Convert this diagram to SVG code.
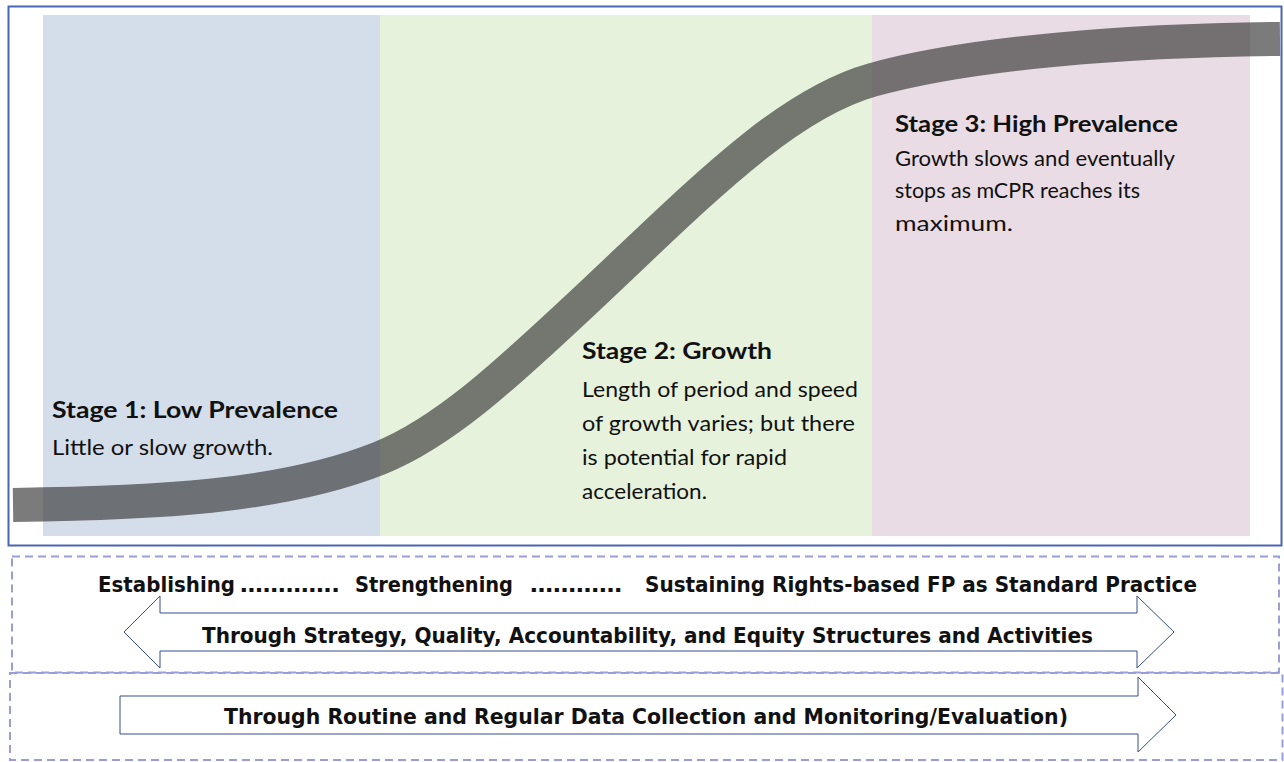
<svg xmlns="http://www.w3.org/2000/svg" width="1284" height="762" viewBox="0 0 1284 762">
  <style>
    .stage-h { font-family: Lato, "Open Sans", "DejaVu Sans", sans-serif; font-weight: 700; font-size: 22px; fill: #111; }
    .stage-b { font-family: Lato, "Open Sans", "DejaVu Sans", sans-serif; font-weight: 400; font-size: 22px; fill: #111; }
    .band-label { font-family: "DejaVu Sans", "Liberation Sans", sans-serif; font-weight: 700; font-size: 20.5px; fill: #111; }
    .dash-box { fill: none; stroke: #9a9ed8; stroke-width: 2; stroke-dasharray: 8 5; }
    .arrow { fill: #fff; stroke: #344f8c; stroke-width: 1; }
  </style>

  <!-- background of the chart area -->
  <rect x="0" y="0" width="1284" height="762" fill="#fff"/>

  <!-- three stage panels -->
  <g id="panels">
    <rect x="43" y="15" width="337" height="521" fill="#d4deea"/>
    <rect x="380" y="15" width="492" height="521" fill="#e6f2dc"/>
    <rect x="872" y="15" width="378" height="521" fill="#e9dce4"/>
  </g>

  <!-- S-shaped mCPR curve -->
  <g id="curve">
    <path d="M13,505 C150,503 280,498 380,458 C445,432 510,370.5 575,310 C690,203 780,106 872,80 C972,52 1130,40.5 1280,39"
          fill="none" stroke="#3a3a3a" stroke-opacity="0.67" stroke-width="34" stroke-linecap="butt"/>
  </g>

  <!-- outer frame -->
  <rect x="8.5" y="6.5" width="1273" height="539" fill="none" stroke="#4a67b4" stroke-width="2"/>

  <!-- stage descriptions -->
  <g id="stage1">
    <text class="stage-h" x="52" y="418" textLength="286" lengthAdjust="spacingAndGlyphs">Stage 1: Low Prevalence</text>
    <text class="stage-b" x="52" y="455" textLength="221" lengthAdjust="spacingAndGlyphs">Little or slow growth.</text>
  </g>
  <g id="stage2">
    <text class="stage-h" x="582" y="359" textLength="190" lengthAdjust="spacingAndGlyphs">Stage 2: Growth</text>
    <text class="stage-b" x="582" y="397" textLength="276" lengthAdjust="spacingAndGlyphs">Length of period and speed</text>
    <text class="stage-b" x="582" y="431" textLength="273" lengthAdjust="spacingAndGlyphs">of growth varies; but there</text>
    <text class="stage-b" x="582" y="465" textLength="205" lengthAdjust="spacingAndGlyphs">is potential for rapid</text>
    <text class="stage-b" x="582" y="499" textLength="125" lengthAdjust="spacingAndGlyphs">acceleration.</text>
  </g>
  <g id="stage3">
    <text class="stage-h" x="895" y="132" textLength="283" lengthAdjust="spacingAndGlyphs">Stage 3: High Prevalence</text>
    <text class="stage-b" x="895" y="166" textLength="280" lengthAdjust="spacingAndGlyphs">Growth slows and eventually</text>
    <text class="stage-b" x="895" y="198" textLength="245" lengthAdjust="spacingAndGlyphs">stops as mCPR reaches its</text>
    <text class="stage-b" x="895" y="231" textLength="118" lengthAdjust="spacingAndGlyphs">maximum.</text>
  </g>

  <!-- dashed bands below the chart -->
  <g id="bands">
    <rect class="dash-box" x="12" y="556.5" width="1267" height="116"/>
    <rect class="dash-box" x="10" y="673" width="1272.5" height="87"/>
  </g>

  <!-- arrows -->
  <g id="connectors">
    <polygon class="arrow" points="124,632 160,596 160,613 1137,613 1137,596 1174,632 1137,668 1137,651 160,651 160,668"/>
    <polygon class="arrow" points="120,696 1138,696 1138,677 1176,715 1138,752 1138,734 120,734"/>
  </g>

  <!-- band labels -->
  <g id="progression">
    <text class="band-label" x="98" y="592" textLength="137" lengthAdjust="spacingAndGlyphs">Establishing</text>
    <text class="band-label" x="240" y="592" textLength="100" lengthAdjust="spacingAndGlyphs">………….</text>
    <text class="band-label" x="355" y="592" textLength="158" lengthAdjust="spacingAndGlyphs">Strengthening</text>
    <text class="band-label" x="530" y="592" textLength="92" lengthAdjust="spacingAndGlyphs">…………</text>
    <text class="band-label" x="645" y="592" textLength="552" lengthAdjust="spacingAndGlyphs">Sustaining Rights-based FP as Standard Practice</text>
  </g>
  <g id="structures">
    <text class="band-label" x="202" y="643" textLength="891" lengthAdjust="spacingAndGlyphs">Through Strategy, Quality, Accountability, and Equity Structures and Activities</text>
  </g>
  <g id="monitoring">
    <text class="band-label" x="224" y="724" textLength="844" lengthAdjust="spacingAndGlyphs">Through Routine and Regular Data Collection and Monitoring/Evaluation)</text>
  </g>
</svg>
